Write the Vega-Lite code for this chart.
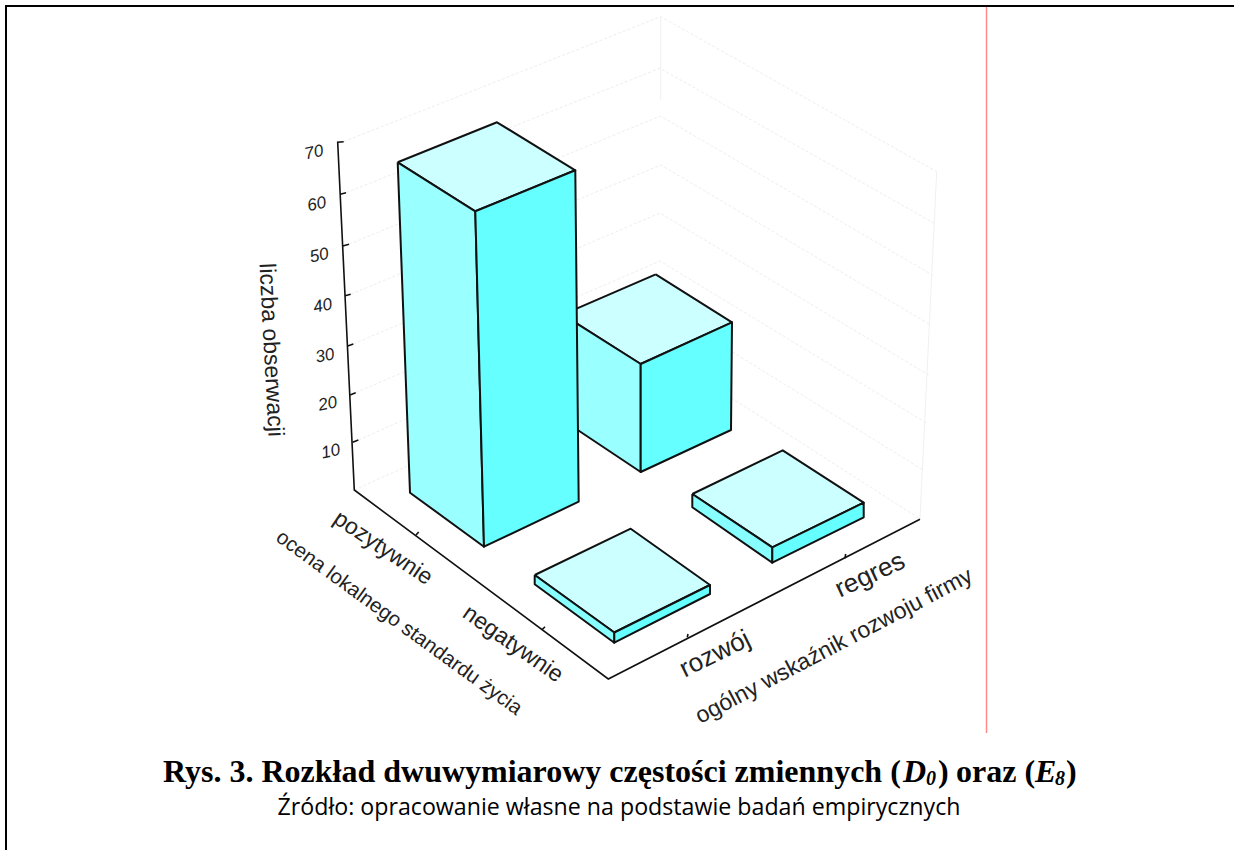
{"$schema":"https://vega.github.io/schema/vega-lite/v6.json","autosize":{"type":"none"},"width":1234,"height":850,"padding":0,"background":"white","view":{"stroke":null},"datasets":{
"frame":[{"line":"f","k":0,"x":6,"y":6},{"line":"f","k":1,"x":6,"y":850},{"line":"g","k":0,"x":5,"y":6},{"line":"g","k":1,"x":1234,"y":6}],
"red":[{"k":0,"x":986.5,"y":7},{"k":1,"x":986.5,"y":733}],
"grid":[
{"level":70,"k":0,"x":343.7,"y":141.7},{"level":70,"k":1,"x":660.7,"y":16.7},{"level":70,"k":2,"x":936.7,"y":171.7},
{"level":60,"k":0,"x":346,"y":192.7},{"level":60,"k":1,"x":660,"y":68.3},{"level":60,"k":2,"x":934.3,"y":223.3},
{"level":50,"k":0,"x":349,"y":244.3},{"level":50,"k":1,"x":660.5,"y":116},{"level":50,"k":2,"x":932.3,"y":275},
{"level":40,"k":0,"x":350.7,"y":294.3},{"level":40,"k":1,"x":661,"y":165},{"level":40,"k":2,"x":930.5,"y":325},
{"level":30,"k":0,"x":353.3,"y":344},{"level":30,"k":1,"x":660,"y":213},{"level":30,"k":2,"x":928.5,"y":375},
{"level":20,"k":0,"x":355.7,"y":392.7},{"level":20,"k":1,"x":660,"y":261},{"level":20,"k":2,"x":926.5,"y":423},
{"level":10,"k":0,"x":358.3,"y":440},{"level":10,"k":1,"x":660,"y":307},{"level":10,"k":2,"x":923,"y":470},
{"level":0,"k":0,"x":354.3,"y":490},{"level":0,"k":1,"x":660,"y":352},{"level":0,"k":2,"x":920,"y":519}],
"wall":[{"line":"a","k":0,"x":660.7,"y":17},{"line":"a","k":1,"x":660.7,"y":100},{"line":"b","k":0,"x":936.7,"y":171.7},{"line":"b","k":1,"x":920,"y":519}],
"axes":[
{"line":"box","k":0,"x":343.7,"y":141.7},{"line":"box","k":1,"x":337.7,"y":142.3},{"line":"box","k":2,"x":354.3,"y":490},{"line":"box","k":3,"x":608.3,"y":679},{"line":"box","k":4,"x":920,"y":519.3},
{"line":"t60","k":0,"x":340.3,"y":194.3},{"line":"t60","k":1,"x":346,"y":192.7},
{"line":"t50","k":0,"x":342.7,"y":246},{"line":"t50","k":1,"x":349,"y":244.3},
{"line":"t40","k":0,"x":345,"y":295.7},{"line":"t40","k":1,"x":350.7,"y":294.3},
{"line":"t30","k":0,"x":347.7,"y":346},{"line":"t30","k":1,"x":353.3,"y":344},
{"line":"t20","k":0,"x":350,"y":395},{"line":"t20","k":1,"x":355.7,"y":392.7},
{"line":"t10","k":0,"x":352.7,"y":442.3},{"line":"t10","k":1,"x":358.3,"y":440},
{"line":"pozytywnie","k":0,"x":416,"y":535},{"line":"pozytywnie","k":1,"x":418.7,"y":532},
{"line":"negatywnie","k":0,"x":541.7,"y":630},{"line":"negatywnie","k":1,"x":545,"y":626.7},
{"line":"rozwoj","k":0,"x":687.3,"y":637.3},{"line":"rozwoj","k":1,"x":688,"y":634},
{"line":"regres","k":0,"x":845,"y":558.3},{"line":"regres","k":1,"x":845.7,"y":554}],
"faces":[
{"ocena":"pozytywnie","wskaznik":"regres","liczba":23,"poly":"m-top","face":"top","k":0,"x":655.7,"y":274.3},{"poly":"m-top","face":"top","k":1,"x":732,"y":322.3},{"poly":"m-top","face":"top","k":2,"x":640.7,"y":364},{"poly":"m-top","face":"top","k":3,"x":562.7,"y":314.7},{"poly":"m-top","face":"top","k":4,"x":655.7,"y":274.3},
{"poly":"m-left","face":"left","k":0,"x":562.7,"y":314.7},{"poly":"m-left","face":"left","k":1,"x":640.7,"y":364},{"poly":"m-left","face":"left","k":2,"x":640.7,"y":472},{"poly":"m-left","face":"left","k":3,"x":562.7,"y":420},{"poly":"m-left","face":"left","k":4,"x":562.7,"y":314.7},
{"poly":"m-right","face":"right","k":0,"x":640.7,"y":364},{"poly":"m-right","face":"right","k":1,"x":732,"y":322.3},{"poly":"m-right","face":"right","k":2,"x":731,"y":430},{"poly":"m-right","face":"right","k":3,"x":640.7,"y":472},{"poly":"m-right","face":"right","k":4,"x":640.7,"y":364},
{"ocena":"pozytywnie","wskaznik":"rozwój","liczba":68,"poly":"t-top","face":"top","k":0,"x":397.7,"y":162.3},{"poly":"t-top","face":"top","k":1,"x":497,"y":122.3},{"poly":"t-top","face":"top","k":2,"x":575.3,"y":170.3},{"poly":"t-top","face":"top","k":3,"x":475.3,"y":211.3},{"poly":"t-top","face":"top","k":4,"x":397.7,"y":162.3},
{"poly":"t-left","face":"left","k":0,"x":397.7,"y":162.3},{"poly":"t-left","face":"left","k":1,"x":475.3,"y":211.3},{"poly":"t-left","face":"left","k":2,"x":484,"y":546.7},{"poly":"t-left","face":"left","k":3,"x":410,"y":492.7},{"poly":"t-left","face":"left","k":4,"x":397.7,"y":162.3},
{"poly":"t-right","face":"right","k":0,"x":475.3,"y":211.3},{"poly":"t-right","face":"right","k":1,"x":575.3,"y":170.3},{"poly":"t-right","face":"right","k":2,"x":578.7,"y":501.7},{"poly":"t-right","face":"right","k":3,"x":484,"y":546.7},{"poly":"t-right","face":"right","k":4,"x":475.3,"y":211.3},
{"ocena":"negatywnie","wskaznik":"rozwój","liczba":2,"poly":"a-top","face":"top","k":0,"x":534.7,"y":575},{"poly":"a-top","face":"top","k":1,"x":630.7,"y":528.7},{"poly":"a-top","face":"top","k":2,"x":710,"y":585},{"poly":"a-top","face":"top","k":3,"x":614.3,"y":632.5},{"poly":"a-top","face":"top","k":4,"x":534.7,"y":575},
{"poly":"a-left","face":"flank","k":0,"x":534.7,"y":575},{"poly":"a-left","face":"flank","k":1,"x":614.3,"y":632.5},{"poly":"a-left","face":"flank","k":2,"x":614.3,"y":642.7},{"poly":"a-left","face":"flank","k":3,"x":534.7,"y":584.3},{"poly":"a-left","face":"flank","k":4,"x":534.7,"y":575},
{"poly":"a-right","face":"right","k":0,"x":614.3,"y":632.5},{"poly":"a-right","face":"right","k":1,"x":710,"y":585},{"poly":"a-right","face":"right","k":2,"x":710,"y":594},{"poly":"a-right","face":"right","k":3,"x":614.3,"y":642.7},{"poly":"a-right","face":"right","k":4,"x":614.3,"y":632.5},
{"ocena":"negatywnie","wskaznik":"regres","liczba":3,"poly":"b-top","face":"top","k":0,"x":692.3,"y":494},{"poly":"b-top","face":"top","k":1,"x":782.7,"y":450.3},{"poly":"b-top","face":"top","k":2,"x":863.7,"y":502.7},{"poly":"b-top","face":"top","k":3,"x":772.3,"y":547.3},{"poly":"b-top","face":"top","k":4,"x":692.3,"y":494},
{"poly":"b-left","face":"flank","k":0,"x":692.3,"y":494},{"poly":"b-left","face":"flank","k":1,"x":772.3,"y":547.3},{"poly":"b-left","face":"flank","k":2,"x":772.3,"y":562.7},{"poly":"b-left","face":"flank","k":3,"x":692.3,"y":507.3},{"poly":"b-left","face":"flank","k":4,"x":692.3,"y":494},
{"poly":"b-right","face":"right","k":0,"x":772.3,"y":547.3},{"poly":"b-right","face":"right","k":1,"x":863.7,"y":502.7},{"poly":"b-right","face":"right","k":2,"x":863.7,"y":517.3},{"poly":"b-right","face":"right","k":3,"x":772.3,"y":562.7},{"poly":"b-right","face":"right","k":4,"x":772.3,"y":547.3}],
"ticklabels":[{"t":"70","x":314,"y":152.7},{"t":"60","x":316.7,"y":204.3},{"t":"50","x":319.3,"y":255.7},{"t":"40","x":322.7,"y":306},{"t":"30","x":325,"y":356},{"t":"20","x":327.7,"y":404},{"t":"10","x":330.7,"y":451.7}],
"labels23":[{"t":"liczba obserwacji","x":271,"y":350,"a":87},{"t":"pozytywnie","x":383,"y":548,"a":34},{"t":"negatywnie","x":513,"y":644,"a":35},{"t":"ogólny wskaźnik rozwoju firmy","x":834,"y":646,"a":-27.7}],
"labels20":[{"t":"ocena lokalnego standardu życia","x":399,"y":623,"a":36}],
"labels26":[{"t":"rozwój","x":715,"y":654,"a":-26},{"t":"regres","x":870,"y":575,"a":-25}],
"titleb":[{"t":"Rys. 3. Rozkład dwuwymiarowy częstości zmiennych (","x":163,"y":781.5},{"t":")","x":938,"y":781.5},{"t":"oraz (","x":956,"y":781.5},{"t":")","x":1066,"y":781.5}],
"titlei":[{"t":"D","x":903,"y":781.5},{"t":"E","x":1035,"y":781.5}],
"titles":[{"t":"0","x":926,"y":785},{"t":"8","x":1055,"y":785}],
"source":[{"t":"Źródło: opracowanie własne na podstawie badań empirycznych","x":619,"y":815}]
},
"encoding":{"x":{"field":"x","type":"quantitative","scale":{"domain":[0,1234],"nice":false,"zero":false},"axis":null},"y":{"field":"y","type":"quantitative","scale":{"domain":[850,0],"nice":false,"zero":false},"axis":null}},
"layer":[
{"data":{"name":"grid"},"mark":{"type":"line","stroke":"#eeeeee","strokeWidth":1,"strokeDash":[3,2]},"encoding":{"detail":{"field":"level"},"order":{"field":"k"}}},
{"data":{"name":"wall"},"mark":{"type":"line","stroke":"#f0f0f0","strokeWidth":1},"encoding":{"detail":{"field":"line"},"order":{"field":"k"}}},
{"data":{"name":"frame"},"mark":{"type":"line","stroke":"black","strokeWidth":2},"encoding":{"detail":{"field":"line"},"order":{"field":"k"}}},
{"data":{"name":"red"},"mark":{"type":"line","stroke":"#ff8a8a","strokeWidth":1.5},"encoding":{"order":{"field":"k"}}},
{"data":{"name":"axes"},"mark":{"type":"line","stroke":"#111111","strokeWidth":1.6},"encoding":{"detail":{"field":"line"},"order":{"field":"k"}}},
{"data":{"name":"faces"},"mark":{"type":"line","stroke":"#111111","strokeWidth":2,"strokeJoin":"round"},"encoding":{"detail":{"field":"poly"},"order":{"field":"k"},"fill":{"field":"face","type":"nominal","legend":null,"scale":{"domain":["top","left","right","flank"],"range":["#ccffff","#99ffff","#66ffff","#88ffff"]}}}},
{"data":{"name":"ticklabels"},"mark":{"type":"text","font":"Liberation Sans","fontStyle":"italic","fontSize":17,"angle":-12,"fill":"#222222","align":"center","baseline":"middle"},"encoding":{"text":{"field":"t"}}},
{"data":{"name":"labels23"},"mark":{"type":"text","font":"Liberation Sans","fontSize":23,"fill":"#222222","align":"center","baseline":"middle"},"encoding":{"text":{"field":"t"},"angle":{"field":"a","type":"quantitative","scale":null}}},
{"data":{"name":"labels20"},"mark":{"type":"text","font":"Liberation Sans","fontSize":20.5,"fill":"#222222","align":"center","baseline":"middle"},"encoding":{"text":{"field":"t"},"angle":{"field":"a","type":"quantitative","scale":null}}},
{"data":{"name":"labels26"},"mark":{"type":"text","font":"Liberation Sans","fontSize":26,"fill":"#222222","align":"center","baseline":"middle"},"encoding":{"text":{"field":"t"},"angle":{"field":"a","type":"quantitative","scale":null}}},
{"data":{"name":"titleb"},"mark":{"type":"text","font":"Liberation Serif","fontWeight":"bold","fontSize":32,"fill":"black","align":"left","baseline":"alphabetic"},"encoding":{"text":{"field":"t"}}},
{"data":{"name":"titlei"},"mark":{"type":"text","font":"Liberation Serif","fontWeight":"bold","fontStyle":"italic","fontSize":32,"fill":"black","align":"left","baseline":"alphabetic"},"encoding":{"text":{"field":"t"}}},
{"data":{"name":"titles"},"mark":{"type":"text","font":"Liberation Serif","fontWeight":"bold","fontStyle":"italic","fontSize":20,"fill":"black","align":"left","baseline":"alphabetic"},"encoding":{"text":{"field":"t"}}},
{"data":{"name":"source"},"mark":{"type":"text","font":"Open Sans","fontSize":23.2,"fill":"black","align":"center","baseline":"alphabetic"},"encoding":{"text":{"field":"t"}}}
]}
